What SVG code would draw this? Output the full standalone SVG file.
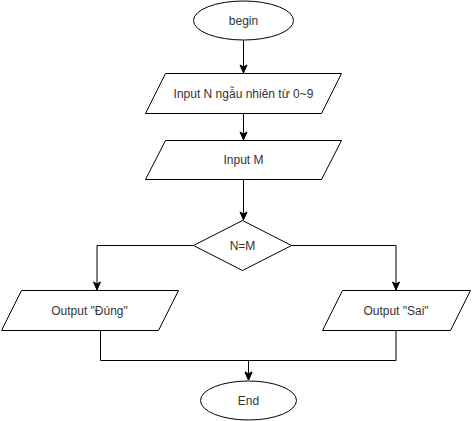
<svg xmlns="http://www.w3.org/2000/svg" width="472" height="421" viewBox="0 0 472 421">
<style>
.s{fill:#fff;stroke:#000;stroke-width:1}
.t{font-family:"Liberation Sans",Arial,sans-serif;font-size:12px;fill:#333;text-anchor:middle;dominant-baseline:central}
.c{fill:none;stroke:#000;stroke-width:1}
</style>
<defs>
<marker id="a" markerUnits="userSpaceOnUse" markerWidth="10" markerHeight="10" viewBox="0 0 10 10" refX="9" refY="5" orient="auto">
<path d="M1,1.5 L9,5 L1,8.5 L3,5 Z" fill="#000" stroke="#000" stroke-width="1"/>
</marker>
</defs>
<g id="connectors">
<path class="c" d="M243.5,40 V73" marker-end="url(#a)"/>
<path class="c" d="M243.5,113 V140" marker-end="url(#a)"/>
<path class="c" d="M243.5,180 V220" marker-end="url(#a)"/>
<path class="c" d="M193,245.5 H97 V290" marker-end="url(#a)"/>
<path class="c" d="M291,245.5 H396 V290" marker-end="url(#a)"/>
<path class="c" d="M100.5,330 V360.5 H248.5 V380" marker-end="url(#a)"/>
<path class="c" d="M396,330 V360.5 H248.5 V380" marker-end="url(#a)"/>
</g>
<g id="begin">
<ellipse class="s" cx="243.5" cy="20.5" rx="50" ry="19.5"/>
<text class="t" x="243.5" y="20.5">begin</text>
</g>
<g id="inputN">
<polygon class="s" points="145.5,113.5 165.5,73.5 341.5,73.5 321.5,113.5"/>
<text class="t" x="243.5" y="93.5">Input N ngẫu nhiên từ 0~9</text>
</g>
<g id="inputM">
<polygon class="s" points="145.5,179.5 165.5,140.5 341.5,140.5 321.5,179.5"/>
<text class="t" x="243.5" y="160">Input M</text>
</g>
<g id="decision">
<polygon class="s" points="242.5,220.5 291.5,245.5 242.5,270.5 193.5,245.5"/>
<text class="t" x="242.5" y="245.5">N=M</text>
</g>
<g id="outDung">
<polygon class="s" points="1.5,330.5 21.5,290.5 178.5,290.5 158.5,330.5"/>
<text class="t" x="89.5" y="310.5">Output "Đúng"</text>
</g>
<g id="outSai">
<polygon class="s" points="322.5,330.5 342.5,290.5 470.5,290.5 450.5,330.5"/>
<text class="t" x="396" y="310.5">Output "Sai"</text>
</g>
<g id="end">
<ellipse class="s" cx="248.5" cy="400.5" rx="48" ry="19.5"/>
<text class="t" x="248.5" y="400.5">End</text>
</g>
</svg>
